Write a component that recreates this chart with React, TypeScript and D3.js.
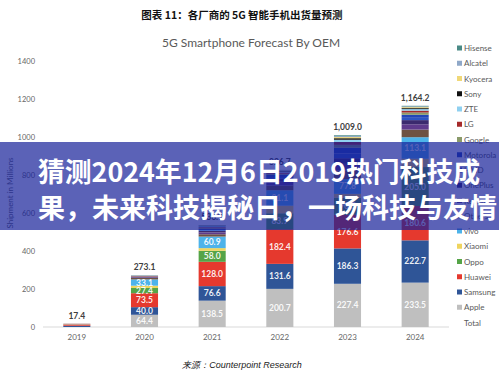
import React from 'react';
import * as d3 from 'd3';

// years on the x axis
const years = ['2019', '2020', '2021', '2022', '2023', '2024'];

// shipments in millions, one list per OEM (bottom of stack first)
const apple = [0, 64.4, 138.5, 200.7, 227.4, 233.5];
const samsung = [6.7, 40.0, 76.6, 131.6, 186.3, 222.7];
const huawei = [6.9, 73.5, 128.0, 182.4, 176.6, 180.6];
const oppo = [0.5, 27.4, 58.0, 83.9, 90.5, 205.0];
const xiaomi = [0.8, 12.0, 14.0, 40.0, 20.0, 44.0];
const vivo = [1.0, 33.1, 60.9, 81.1, 77.8, 113.1];
const others = [0.2, 8.0, 12.0, 25.0, 45.0, 40.0];
const realme = [0, 3.0, 10.0, 20.0, 35.0, 28.0];
const onePlus = [0, 2.0, 8.0, 15.0, 30.0, 22.0];
const hmd = [0, 0.5, 5.0, 10.0, 25.0, 12.0];
const motorola = [0, 1.5, 6.0, 12.0, 30.0, 16.0];
const google = [0, 1.0, 3.0, 5.0, 15.0, 12.0];
const lg = [1.0, 3.0, 5.0, 6.0, 15.0, 10.0];
const zte = [0.3, 2.5, 6.0, 5.0, 12.0, 8.0];
const sony = [0, 0.5, 2.0, 3.0, 8.0, 5.0];
const kyocera = [0, 0.3, 1.5, 2.5, 6.0, 5.0];
const alcatel = [0, 0.2, 1.4, 2.0, 5.0, 4.0];
const hisense = [0, 0.2, 1.0, 1.5, 4.4, 3.3];

const series: [string, number[]][] = [
  ['Apple', apple],
  ['Samsung', samsung],
  ['Huawei', huawei],
  ['Oppo', oppo],
  ['Xiaomi', xiaomi],
  ['vivo', vivo],
  ['Others', others],
  ['Realme', realme],
  ['OnePlus', onePlus],
  ['HMD', hmd],
  ['Motorola', motorola],
  ['Google', google],
  ['LG', lg],
  ['ZTE', zte],
  ['Sony', sony],
  ['Kyocera', kyocera],
  ['Alcatel', alcatel],
  ['Hisense', hisense],
];

const yTicks = [0, 200, 400, 600, 800, 1000, 1200, 1400];
const labeled = ['Apple', 'Samsung', 'Huawei', 'Oppo', 'vivo'];

const colors: Record<string, string> = {
  Apple: '#bfbfbf',
  Samsung: '#2f5597',
  Huawei: '#e5392e',
  Oppo: '#55a447',
  Xiaomi: '#efd45e',
  vivo: '#4db3ea',
  Others: '#6e5243',
  Realme: '#5e3a8c',
  OnePlus: '#3b2a6e',
  HMD: '#2d56c4',
  Motorola: '#2347b8',
  Google: '#8a9a6a',
  LG: '#a52a2a',
  ZTE: '#8fd0f0',
  Sony: '#111111',
  Kyocera: '#f0d878',
  Alcatel: '#8fa8c8',
  Hisense: '#4a8a86',
};

const W = 499;
const H = 373;
const chartFont = 'Lato, "Open Sans", sans-serif';
const cjkFont = '"Noto Sans CJK SC", sans-serif';

export default function App() {
  const keys = series.map((s) => s[0]);
  const rows = years.map((yr, i) => {
    const r: any = { year: yr };
    series.forEach(([k, v]) => (r[k] = v[i]));
    return r;
  });
  const stacked = d3.stack<any>().keys(keys)(rows);
  const totals = years.map((_, i) => d3.sum(series, (s) => s[1][i]));

  const x = d3.scaleBand().domain(years).range([43, 449]).paddingInner(0.6).paddingOuter(0.3);
  const y = d3.scaleLinear().domain([0, 1400]).range([327, 61]);
  const fmt = d3.format(',.1f');

  const legendItems = [...keys].reverse().concat(['Total']);

  return (
    <svg width={W} height={H} style={{ position: 'absolute', left: 0, top: 0, background: '#fff' }}>
      <text x={242} y={19} textAnchor="middle" fontFamily={cjkFont} fontWeight="bold" fontSize={10.5} fill="#111">
        图表 11：各厂商的 5G 智能手机出货量预测
      </text>
      <text x={251} y={47} textAnchor="middle" fontFamily={chartFont} fontSize={12} fill="#595959">
        5G Smartphone Forecast By OEM
      </text>

      {/* y axis */}
      {yTicks.map((t) => (
        <text key={t} x={35} y={y(t) + 3} textAnchor="end" fontFamily={chartFont} fontSize={7.5} fill="#666">
          {t}
        </text>
      ))}
      <text
        transform={`translate(13,${193}) rotate(-90)`}
        textAnchor="middle"
        fontFamily={chartFont}
        fontSize={8}
        fill="#666"
      >
        Shipment in Millions
      </text>
      <line x1={43} x2={449} y1={y(0)} y2={y(0)} stroke="#d9d9d9" strokeWidth={1} />

      {/* bars */}
      {stacked.map((layer) => (
        <g key={layer.key} fill={colors[layer.key]}>
          {layer.map((d, i) => (
            <rect
              key={i}
              x={x(years[i])}
              y={y(d[1])}
              width={x.bandwidth()}
              height={Math.max(0, y(d[0]) - y(d[1]))}
            />
          ))}
        </g>
      ))}
      {stacked
        .filter((layer) => labeled.includes(layer.key))
        .map((layer) =>
          layer.map((d, i) =>
            d[1] - d[0] >= 20 ? (
              <text
                key={layer.key + i}
                x={(x(years[i]) as number) + x.bandwidth() / 2}
                y={(y(d[0]) + y(d[1])) / 2 + 3}
                textAnchor="middle"
                fontFamily={chartFont}
                fontWeight="bold"
                fontSize={8.5}
                fill="#fff"
                fillOpacity={0.92}
              >
                {fmt(d[1] - d[0])}
              </text>
            ) : null
          )
        )}
      {totals.map((t, i) => (
        <text
          key={'t' + i}
          x={(x(years[i]) as number) + x.bandwidth() / 2}
          y={y(t) - 5}
          textAnchor="middle"
          fontFamily={chartFont}
          fontWeight="bold"
          fontSize={8.5}
          fill="#404040"
        >
          {fmt(t)}
        </text>
      ))}

      {/* x axis labels */}
      {years.map((yr) => (
        <text
          key={yr}
          x={(x(yr) as number) + x.bandwidth() / 2}
          y={340}
          textAnchor="middle"
          fontFamily={chartFont}
          fontSize={8}
          fill="#666"
        >
          {yr}
        </text>
      ))}

      {/* legend */}
      {legendItems.map((k, i) => (
        <g key={k} transform={`translate(457,${48 + i * 15.25})`}>
          {k !== 'Total' && <rect x={0} y={-2.5} width={5} height={5} fill={colors[k]} />}
          <text x={7} y={3} fontFamily={chartFont} fontSize={8} fill="#595959">
            {k}
          </text>
        </g>
      ))}

      <text x={242} y={368} textAnchor="middle" fontFamily={'"Liberation Sans", Arial, sans-serif'} fontStyle="italic" fontSize={9} fill="#222">
        来源：Counterpoint Research
      </text>

      {/* banner overlay */}
      <rect x={0} y={142} width={W} height={88} fill="rgb(22,32,153)" fillOpacity={0.7} />
      <text x={38} y={182} fontFamily={cjkFont} fontWeight="bold" fontSize={27} fill="#fff" textLength={442} lengthAdjust="spacingAndGlyphs">
        猜测2024年12月6日2019热门科技成
      </text>
      <text x={38} y={218} fontFamily={cjkFont} fontWeight="bold" fontSize={27} fill="#fff">
        果，未来科技揭秘日，一场科技与友情
      </text>
    </svg>
  );
}
